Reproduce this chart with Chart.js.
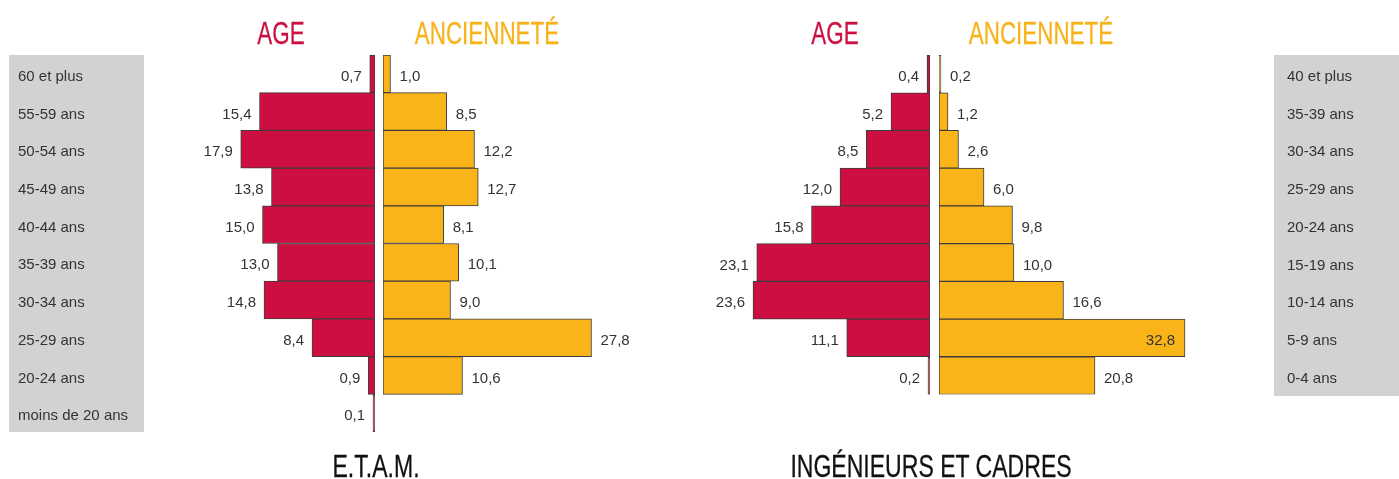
<!DOCTYPE html>
<html lang="fr">
<head>
<meta charset="utf-8">
<title>Pyramides âge / ancienneté</title>
<script src="https://cdn.jsdelivr.net/npm/chart.js@4.4.1/dist/chart.umd.min.js"></script>
<style>
  html, body { margin: 0; padding: 0; background: #fff; }
  #wrap { position: relative; width: 1399px; height: 479px; overflow: hidden; }
  #wrap canvas { position: absolute; left: 0; top: 0; }
  .title {
    position: absolute;
    font-family: "Liberation Sans", Arial, sans-serif;
    font-size: 32px;
    line-height: 32px;
    white-space: nowrap;
    -webkit-text-stroke: 0.3px currentColor;
    transform: translateX(-50%) scaleX(0.7);
  }
  .title.foot { transform: translateX(-50%) scaleX(0.72); }
</style>
</head>
<body>
<div id="wrap">
  <canvas id="etamAgeChart" width="1399" height="479"></canvas>
  <canvas id="etamAncChart" width="1399" height="479"></canvas>
  <canvas id="cadresAgeChart" width="1399" height="479"></canvas>
  <canvas id="cadresAncChart" width="1399" height="479"></canvas>

  <div class="title" style="left:281px;top:17px;color:#cc1142">AGE</div>
  <div class="title" style="left:487px;top:17px;color:#f8b31b">ANCIENNETÉ</div>
  <div class="title" style="left:835px;top:17px;color:#cc1142">AGE</div>
  <div class="title" style="left:1041px;top:17px;color:#f8b31b">ANCIENNETÉ</div>
  <div class="title foot" style="left:376px;top:450px;color:#111">E.T.A.M.</div>
  <div class="title foot" style="left:931px;top:450px;color:#111">INGÉNIEURS ET CADRES</div>
</div>

<script>
// E.T.A.M. : age brackets (left column)
const etamCategories = ["60 et plus", "55-59 ans", "50-54 ans", "45-49 ans", "40-44 ans",
  "35-39 ans", "30-34 ans", "25-29 ans", "20-24 ans", "moins de 20 ans"];
const etamAge = [0.7, 15.4, 17.9, 13.8, 15.0, 13.0, 14.8, 8.4, 0.9, 0.1];
const etamAnciennete = [1.0, 8.5, 12.2, 12.7, 8.1, 10.1, 9.0, 27.8, 10.6, null];

// Ingénieurs et cadres : seniority brackets (right column)
const cadresCategories = ["40 et plus", "35-39 ans", "30-34 ans", "25-29 ans", "20-24 ans",
  "15-19 ans", "10-14 ans", "5-9 ans", "0-4 ans"];
const cadresAge = [0.4, 5.2, 8.5, 12.0, 15.8, 23.1, 23.6, 11.1, 0.2];
const cadresAnciennete = [0.2, 1.2, 2.6, 6.0, 9.8, 10.0, 16.6, 32.8, 20.8];

const RED = "#cc0f40";
const GOLD = "#f9b419";
const FONT = '"Liberation Sans", Arial, sans-serif';

Chart.defaults.font.family = FONT;

// grey band behind the category labels
const greyBox = {
  id: "greyBox",
  beforeDraw(chart, args, opts) {
    const { ctx, chartArea } = chart;
    ctx.save();
    ctx.fillStyle = "#d1d2d4";
    ctx.fillRect(opts.x, chartArea.top, opts.width, chartArea.height + (opts.extra || 0));
    ctx.restore();
  }
};

// value next to each bar, french decimal comma
const valueLabels = {
  id: "valueLabels",
  afterDatasetsDraw(chart, args, opts) {
    const { ctx } = chart;
    const toLeft = chart.options.scales.x.reverse;
    const values = chart.data.datasets[0].data;
    ctx.save();
    ctx.font = "15px " + FONT;
    ctx.fillStyle = "#333";
    ctx.textBaseline = "middle";
    chart.getDatasetMeta(0).data.forEach((bar, i) => {
      const v = values[i];
      if (v == null) return;
      const txt = v.toFixed(1).replace(".", ",");
      const y = bar.y + 3;
      if (toLeft) {
        ctx.textAlign = "right";
        ctx.fillText(txt, bar.x - 8, y);
      } else if (opts.insideAbove && v > opts.insideAbove) {
        ctx.textAlign = "right";
        ctx.fillText(txt, bar.x - 10, y);
      } else {
        ctx.textAlign = "left";
        ctx.fillText(txt, bar.x + 9, y);
      }
    });
    ctx.restore();
  }
};

function pyramidSide(id, labels, values, color, cfg) {
  return new Chart(document.getElementById(id), {
    type: "bar",
    data: {
      labels: labels,
      datasets: [{
        data: values,
        backgroundColor: color,
        borderColor: "#3d3d3d",
        borderWidth: 1,
        borderSkipped: false,
        categoryPercentage: 1,
        barPercentage: 1,
        minBarLength: 2
      }]
    },
    options: {
      indexAxis: "y",
      responsive: false,
      animation: false,
      events: [],
      layout: { padding: cfg.padding },
      plugins: {
        legend: { display: false },
        tooltip: { enabled: false },
        greyBox: cfg.box || false,
        valueLabels: { insideAbove: cfg.insideAbove }
      },
      scales: {
        x: { min: 0, max: cfg.max, reverse: !!cfg.reverse, display: false },
        y: cfg.y || { display: false }
      }
    },
    plugins: [greyBox, valueLabels]
  });
}

const tickFont = { family: FONT, size: 15 };

pyramidSide("etamAgeChart", etamCategories, etamAge, RED, {
  reverse: true, max: 30,
  padding: { left: 18, right: 1024, top: 55, bottom: 47 },
  box: { x: 9, width: 135 },
  y: {
    position: "left",
    grid: { display: false, drawTicks: false },
    border: { display: false },
    ticks: { crossAlign: "far", padding: 0, labelOffset: 3, color: "#333", font: tickFont },
    afterFit(scale) { scale.width = 132; }
  }
});

pyramidSide("etamAncChart", etamCategories, etamAnciennete, GOLD, {
  max: 30,
  padding: { left: 383, right: 791, top: 55, bottom: 47 }
});

pyramidSide("cadresAgeChart", cadresCategories, cadresAge, RED, {
  reverse: true, max: 30,
  padding: { left: 705, right: 469, top: 55, bottom: 84.5 }
});

pyramidSide("cadresAncChart", cadresCategories, cadresAnciennete, GOLD, {
  max: 44.67, insideAbove: 30,
  padding: { left: 939, right: 0, top: 55, bottom: 84.5 },
  box: { x: 1274, width: 125, extra: 1.5 },
  y: {
    position: "right",
    grid: { display: false, drawTicks: false },
    border: { display: false },
    ticks: { crossAlign: "near", padding: 13, labelOffset: 3, color: "#333", font: tickFont },
    afterFit(scale) { scale.width = 125; }
  }
});
</script>
</body>
</html>
